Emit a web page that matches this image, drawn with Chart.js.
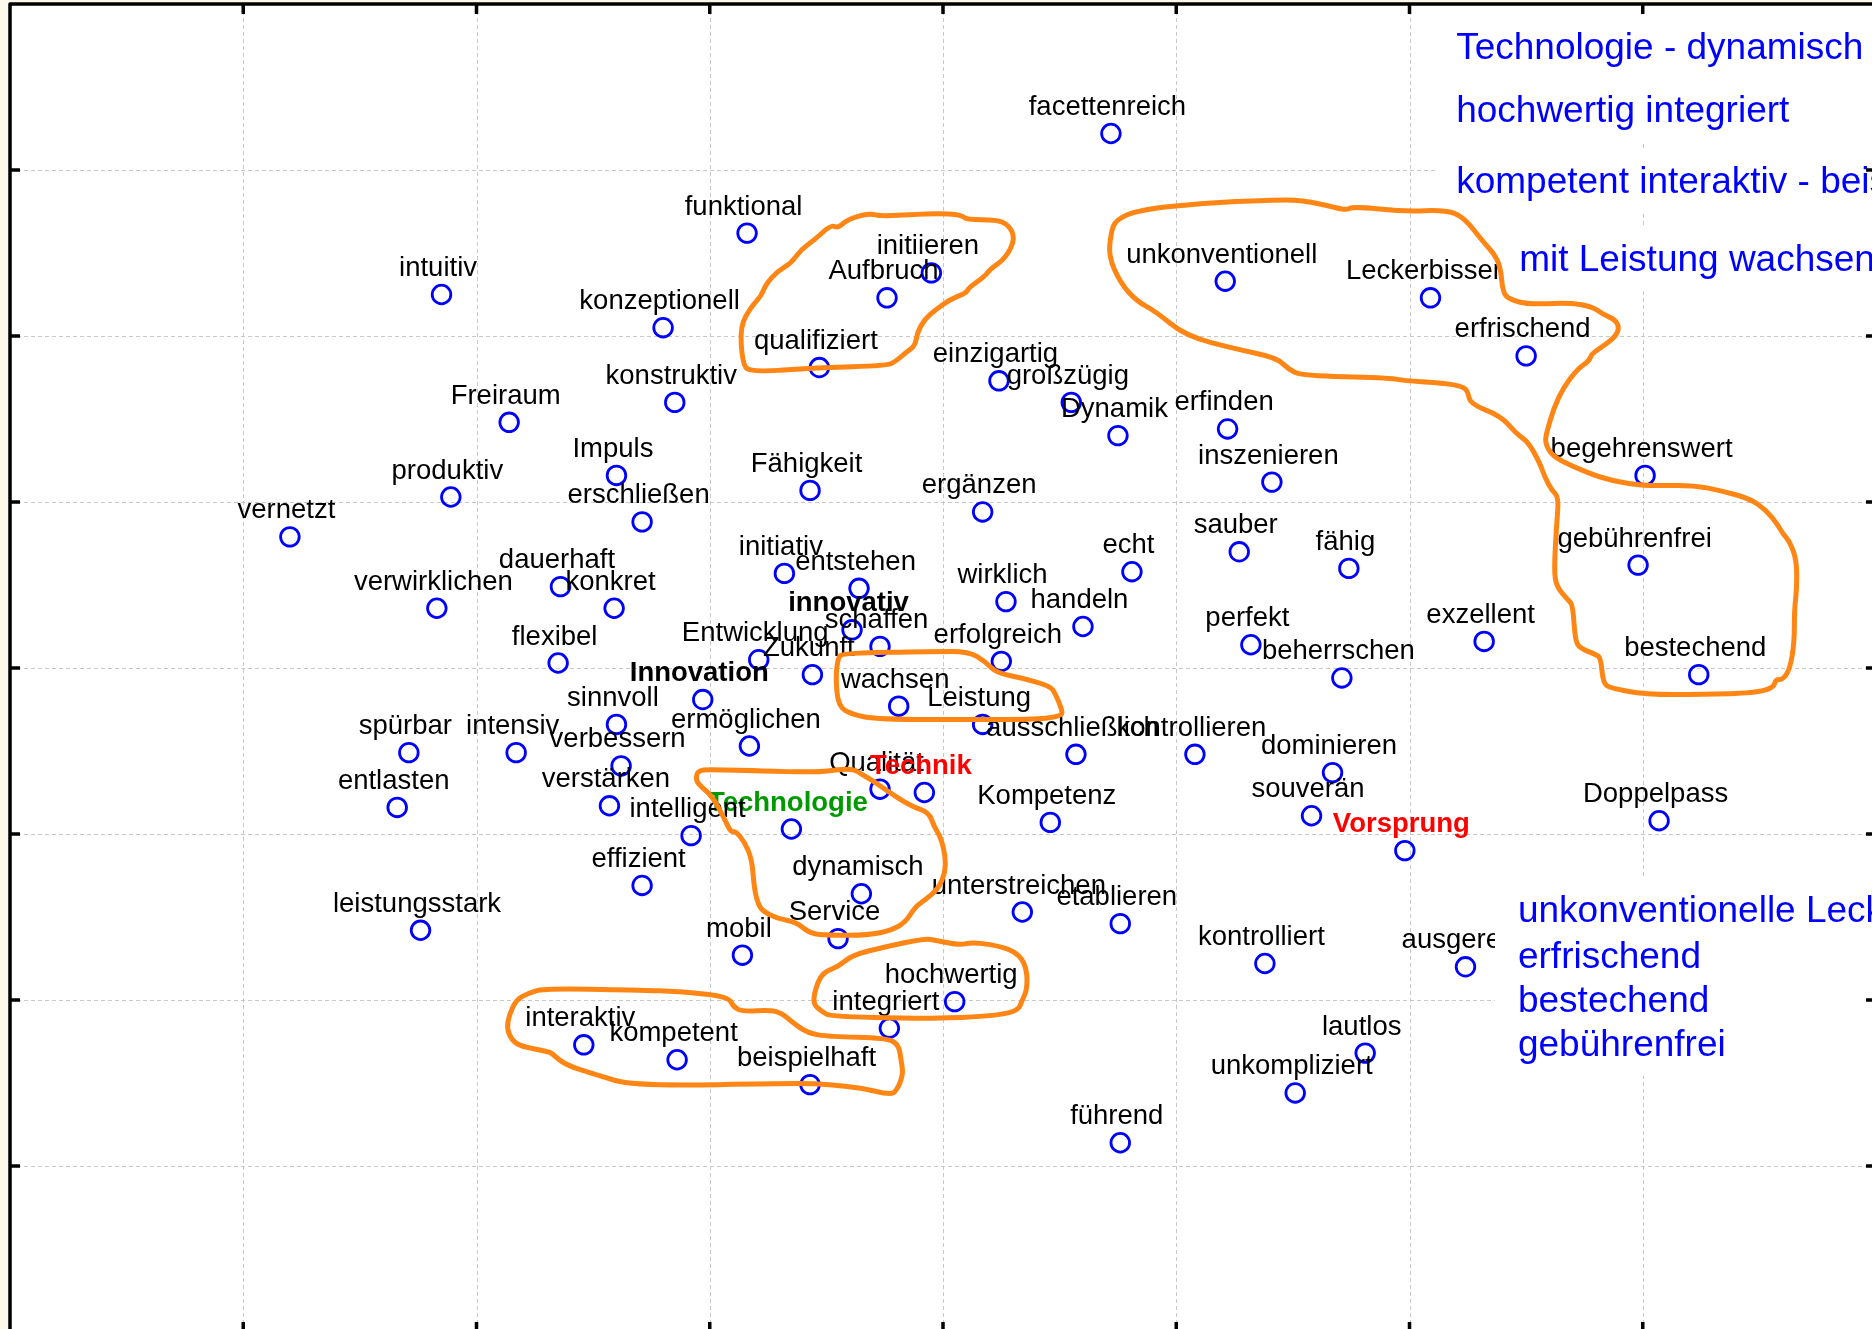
<!DOCTYPE html>
<html>
<head>
<meta charset="utf-8">
<script src="https://cdn.jsdelivr.net/npm/chart.js@4.4.1/dist/chart.umd.min.js"></script>
<style>
  html, body { margin: 0; padding: 0; overflow: hidden; background: #fdf8ec; }
  #wrap { position: absolute; left: 0; top: 0; width: 1890px; height: 1345px; }
</style>
</head>
<body>
<div id="wrap"><canvas id="myChart" width="1890" height="1345"></canvas></div>
<script>
// words and their positions on the map
const words = ['facettenreich', 'funktional', 'initiieren', 'Aufbruch', 'intuitiv', 'konzeptionell', 'qualifiziert',
  'unkonventionell', 'Leckerbissen', 'erfrischend', 'einzigartig', 'großzügig', 'konstruktiv', 'Freiraum', 'Dynamik',
  'erfinden', 'inszenieren', 'begehrenswert', 'Impuls', 'produktiv', 'Fähigkeit', 'ergänzen', 'erschließen', 'vernetzt',
  'sauber', 'fähig', 'echt', 'gebührenfrei', 'initiativ', 'entstehen', 'dauerhaft', 'konkret', 'verwirklichen', 'wirklich',
  'handeln', 'innovativ', 'schaffen', 'perfekt', 'exzellent', 'Entwicklung', 'erfolgreich', 'flexibel', 'Zukunft',
  'bestechend', 'beherrschen', 'Innovation', 'wachsen', 'sinnvoll', 'Leistung', 'ermöglichen', 'spürbar', 'intensiv',
  'ausschließlich', 'kontrollieren', 'verbessern', 'dominieren', 'Qualität', 'Technik', 'verstärken', 'entlasten',
  'souverän', 'Doppelpass', 'Kompetenz', 'Technologie', 'intelligent', 'Vorsprung', 'effizient', 'dynamisch',
  'unterstreichen', 'etablieren', 'leistungsstark', 'Service', 'mobil', 'kontrolliert', 'ausgereift', 'hochwertig',
  'integriert', 'interaktiv', 'lautlos', 'kompetent', 'beispielhaft', 'unkompliziert', 'führend'];

const xValues = [0.72, -0.84, -0.05, -0.24, -2.15, -1.20, -0.53, 1.21, 2.09, 2.50, 0.24, 0.55, -1.15, -1.86, 0.75,
  1.22, 1.41, 3.01, -1.40, -2.11, -0.57, 0.17, -1.29, -2.80, 1.27, 1.74, 0.81, 2.98, -0.68, -0.36, -1.64, -1.41, -2.17,
  0.27, 0.60, -0.39, -0.27, 1.32, 2.32, -0.79, 0.25, -1.65, -0.56, 3.24, 1.71, -1.03, -0.19, -1.40, 0.17, -0.83, -2.29,
  -1.83, 0.57, 1.08, -1.38, 1.67, -0.27, -0.08, -1.43, -2.34, 1.58, 3.07, 0.46, -0.65, -1.08, 1.98, -1.29, -0.35, 0.34,
  0.76, -2.24, -0.45, -0.86, 1.38, 2.24, 0.05, -0.23, -1.54, 1.81, -1.14, -0.57, 1.51, 0.76];

const yValues = [3.22, 2.62, 2.38, 2.23, 2.25, 2.05, 1.81, 2.33, 2.23, 1.88, 1.73, 1.60, 1.60, 1.48, 1.40, 1.44, 1.12,
  1.16, 1.16, 1.03, 1.07, 0.94, 0.88, 0.79, 0.70, 0.60, 0.58, 0.62, 0.57, 0.48, 0.49, 0.36, 0.36, 0.40, 0.25, 0.23, 0.13,
  0.14, 0.16, 0.05, 0.04, 0.03, -0.04, -0.04, -0.06, -0.19, -0.23, -0.34, -0.34, -0.47, -0.51, -0.51, -0.52, -0.52,
  -0.59, -0.63, -0.73, -0.75, -0.83, -0.84, -0.89, -0.92, -0.93, -0.97, -1.01, -1.10, -1.31, -1.36, -1.47, -1.54, -1.58,
  -1.63, -1.73, -1.78, -1.80, -2.01, -2.17, -2.27, -2.32, -2.36, -2.51, -2.56, -2.86];

// highlighted words (bold, own colour)
const highlightWords = ['innovativ', 'Innovation', 'Technik', 'Vorsprung', 'Technologie'];
const highlightColors = ['#000000', '#000000', '#ff0000', '#ff0000', '#009a00'];

const xTicks = [-4, -3, -2, -1, 0, 1, 2, 3, 4];
const yTicks = [-4, -3, -2, -1, 0, 1, 2, 3, 4];

// blue notes top right, one text per line
const noteLines = ['Technologie - dynamisch Service', 'hochwertig integriert', 'kompetent interaktiv - beispielhaft', 'mit Leistung wachsen'];
const noteX = [2.20, 2.20, 2.20, 2.47];
const noteY = [3.67, 3.29, 2.86, 2.39];

// blue note bottom right, one block
const blockLines = ['unkonventionelle Leckerbissen', 'erfrischend', 'bestechend', 'gebührenfrei'];
const blockX = 2.465;
const blockY = [-1.530, -1.805, -2.072, -2.337];

// hand drawn cluster outlines
const outlines = [
  [[-0.83, 1.78], [-0.86, 1.84], [-0.87, 2.06], [-0.82, 2.18], [-0.78, 2.24], [-0.76, 2.31], [-0.71, 2.39], [-0.65, 2.44],
   [-0.61, 2.52], [-0.55, 2.58], [-0.48, 2.67], [-0.45, 2.65], [-0.41, 2.70], [-0.32, 2.74], [-0.26, 2.72], [-0.03, 2.74],
   [0.08, 2.73], [0.10, 2.70], [0.23, 2.70], [0.28, 2.67], [0.31, 2.59], [0.27, 2.47], [0.20, 2.40], [0.18, 2.36],
   [0.11, 2.29], [0.10, 2.26], [0.03, 2.22], [-0.03, 2.16], [-0.08, 2.10], [-0.11, 2.02], [-0.12, 1.94], [-0.16, 1.90],
   [-0.20, 1.85], [-0.24, 1.82], [-0.54, 1.81]],
  [[0.74, 2.70], [0.84, 2.76], [1.11, 2.80], [1.40, 2.82], [1.54, 2.82], [1.69, 2.77], [1.73, 2.76], [1.76, 2.78],
   [1.98, 2.75], [2.15, 2.76], [2.23, 2.72], [2.32, 2.56], [2.36, 2.50], [2.39, 2.42], [2.40, 2.26], [2.43, 2.22],
   [2.51, 2.19], [2.68, 2.20], [2.78, 2.18], [2.83, 2.13], [2.88, 2.10], [2.90, 2.05], [2.88, 1.99], [2.81, 1.92],
   [2.78, 1.89], [2.77, 1.85], [2.72, 1.80], [2.66, 1.69], [2.62, 1.57], [2.59, 1.43], [2.58, 1.36], [2.61, 1.28],
   [2.69, 1.22], [2.83, 1.14], [2.98, 1.10], [3.08, 1.10], [3.22, 1.10], [3.33, 1.07], [3.46, 1.02], [3.53, 0.95],
   [3.58, 0.86], [3.60, 0.81], [3.63, 0.76], [3.66, 0.65], [3.66, 0.47], [3.65, 0.35], [3.65, 0.15], [3.63, -0.01],
   [3.60, -0.07], [3.57, -0.07], [3.56, -0.12], [3.48, -0.15], [3.26, -0.16], [3.01, -0.16], [2.86, -0.12], [2.83, -0.09],
   [2.82, 0.06], [2.80, 0.08], [2.73, 0.12], [2.71, 0.17], [2.70, 0.38], [2.68, 0.41], [2.63, 0.49], [2.62, 0.59],
   [2.63, 0.85], [2.64, 1.03], [2.61, 1.07], [2.58, 1.15], [2.56, 1.23], [2.51, 1.36], [2.46, 1.41], [2.39, 1.52],
   [2.26, 1.59], [2.25, 1.67], [2.22, 1.70], [2.12, 1.72], [1.98, 1.73], [1.90, 1.75], [1.54, 1.76], [1.48, 1.80],
   [1.43, 1.87], [1.26, 1.92], [1.04, 2.00], [0.91, 2.15], [0.83, 2.21], [0.76, 2.32], [0.71, 2.48], [0.72, 2.62]],
  [[-0.43, 0.09], [-0.04, 0.10], [0.11, 0.10], [0.18, 0.04], [0.23, -0.03], [0.34, -0.06], [0.46, -0.11], [0.48, -0.15],
   [0.51, -0.25], [0.51, -0.29], [0.40, -0.31], [0.16, -0.31], [-0.28, -0.31], [-0.39, -0.28], [-0.45, -0.23],
   [-0.46, -0.05], [-0.45, 0.06]],
  [[-1.05, -0.62], [-1.01, -0.61], [-0.54, -0.63], [-0.45, -0.61], [-0.38, -0.61], [-0.35, -0.64], [-0.31, -0.67],
   [-0.24, -0.74], [-0.14, -0.83], [-0.06, -0.87], [-0.04, -0.95], [-0.01, -1.02], [0.01, -1.13], [0.01, -1.23],
   [-0.02, -1.33], [-0.08, -1.40], [-0.12, -1.44], [-0.16, -1.53], [-0.22, -1.58], [-0.32, -1.61], [-0.49, -1.61],
   [-0.57, -1.60], [-0.63, -1.53], [-0.71, -1.51], [-0.78, -1.46], [-0.80, -1.39], [-0.81, -1.31], [-0.82, -1.15],
   [-0.85, -1.05], [-0.89, -0.98], [-0.91, -0.99], [-0.94, -0.90], [-0.99, -0.77], [-1.05, -0.70], [-1.06, -0.66]],
  [[-0.56, -2.02], [-0.54, -1.90], [-0.51, -1.83], [-0.45, -1.80], [-0.39, -1.73], [-0.25, -1.68], [-0.08, -1.63],
   [-0.03, -1.64], [0.07, -1.67], [0.13, -1.65], [0.26, -1.68], [0.33, -1.73], [0.36, -1.82], [0.36, -1.94],
   [0.34, -2.00], [0.32, -2.07], [0.18, -2.10], [-0.03, -2.11], [-0.11, -2.11], [-0.48, -2.10], [-0.52, -2.07]],
  [[-1.71, -1.93], [-1.32, -1.94], [-1.11, -1.95], [-0.92, -1.98], [-0.90, -2.04], [-0.86, -2.07], [-0.74, -2.06],
   [-0.69, -2.08], [-0.65, -2.13], [-0.58, -2.20], [-0.49, -2.22], [-0.24, -2.23], [-0.19, -2.27], [-0.18, -2.36],
   [-0.17, -2.45], [-0.20, -2.55], [-0.23, -2.57], [-0.35, -2.53], [-0.49, -2.51], [-0.61, -2.50], [-1.32, -2.52],
   [-1.49, -2.45], [-1.62, -2.39], [-1.67, -2.33], [-1.69, -2.31], [-1.81, -2.28], [-1.85, -2.24], [-1.87, -2.17],
   [-1.86, -2.09], [-1.83, -2.00], [-1.78, -1.96]]
];

const labelFont = '27.5px "Liberation Sans", Arial, sans-serif';
const boldFont = 'bold 27.5px "Liberation Sans", Arial, sans-serif';
const noteFont = '37px "Liberation Sans", Arial, sans-serif';

function smoothClosed(c, pts) {
  const n = pts.length;
  const mid = (a, b) => [(a[0] + b[0]) / 2, (a[1] + b[1]) / 2];
  let m = mid(pts[n - 1], pts[0]);
  c.beginPath();
  c.moveTo(m[0], m[1]);
  for (let i = 0; i < n; i++) {
    const p = pts[i];
    const q = mid(p, pts[(i + 1) % n]);
    c.quadraticCurveTo(p[0], p[1], q[0], q[1]);
  }
  c.closePath();
  c.stroke();
}

const backgroundAndGrid = {
  id: 'backgroundAndGrid',
  beforeDatasetsDraw(chart) {
    const c = chart.ctx;
    const a = chart.chartArea;
    const xs = chart.scales.x, ys = chart.scales.y;
    c.save();
    c.fillStyle = '#ffffff';
    c.fillRect(a.left, a.top, a.right - a.left, a.bottom - a.top);
    c.strokeStyle = '#c8c8c8';
    c.lineWidth = 1;
    c.setLineDash([4, 3]);
    xTicks.forEach(v => {
      const px = Math.round(xs.getPixelForValue(v)) + 0.5;
      c.beginPath(); c.moveTo(px, a.top); c.lineTo(px, a.bottom); c.stroke();
    });
    yTicks.forEach(v => {
      const py = Math.round(ys.getPixelForValue(v)) + 0.5;
      c.beginPath(); c.moveTo(a.left, py); c.lineTo(a.right, py); c.stroke();
    });
    c.restore();
  }
};

const overlays = {
  id: 'overlays',
  afterDatasetsDraw(chart) {
    const c = chart.ctx;
    const a = chart.chartArea;
    const xs = chart.scales.x, ys = chart.scales.y;
    c.save();

    // word labels above the points
    c.textAlign = 'center';
    c.textBaseline = 'alphabetic';
    words.forEach((w, i) => {
      const px = xs.getPixelForValue(xValues[i]);
      const py = ys.getPixelForValue(yValues[i]);
      const h = highlightWords.indexOf(w);
      c.font = h >= 0 ? boldFont : labelFont;
      c.fillStyle = h >= 0 ? highlightColors[h] : '#000000';
      c.fillText(w, px - 3.5, py - 18.5);
    });

    // blue notes on white boxes
    c.textAlign = 'left';
    c.font = noteFont;
    noteLines.forEach((t, i) => {
      const px = xs.getPixelForValue(noteX[i]);
      const py = ys.getPixelForValue(noteY[i]);
      const w = c.measureText(t).width;
      c.fillStyle = '#ffffff';
      c.fillRect(px - 20, py - 45, w + 40, 65);
      c.fillStyle = '#0000ff';
      c.fillText(t, px, py);
    });
    const bx = xs.getPixelForValue(blockX);
    const bTop = ys.getPixelForValue(blockY[0]) - 46;
    const bBottom = ys.getPixelForValue(blockY[blockY.length - 1]) + 20;
    const bw = Math.max(...blockLines.map(t => c.measureText(t).width));
    c.fillStyle = '#ffffff';
    c.fillRect(bx - 23, bTop, bw + 46, bBottom - bTop);
    c.fillStyle = '#0000ff';
    blockLines.forEach((t, i) => c.fillText(t, bx, ys.getPixelForValue(blockY[i])));

    // orange cluster outlines
    c.strokeStyle = '#ff8614';
    c.lineWidth = 5;
    c.lineJoin = 'round';
    c.lineCap = 'round';
    outlines.forEach(o => {
      smoothClosed(c, o.map(p => [xs.getPixelForValue(p[0]), ys.getPixelForValue(p[1])]));
    });

    // frame with inner ticks
    c.strokeStyle = '#000000';
    c.lineWidth = 3.5;
    c.lineCap = 'butt';
    c.strokeRect(a.left, a.top, a.right - a.left, a.bottom - a.top);
    c.beginPath();
    xTicks.slice(1, -1).forEach(v => {
      const px = xs.getPixelForValue(v);
      c.moveTo(px, a.top); c.lineTo(px, a.top + 10);
      c.moveTo(px, a.bottom); c.lineTo(px, a.bottom - 10);
    });
    yTicks.slice(1, -1).forEach(v => {
      const py = ys.getPixelForValue(v);
      c.moveTo(a.left, py); c.lineTo(a.left + 10, py);
      c.moveTo(a.right, py); c.lineTo(a.right - 10, py);
    });
    c.stroke();
    c.restore();
  }
};

const ctx = document.getElementById('myChart');

function createWordMap() {
  new Chart(ctx, {
    type: 'scatter',
    data: {
      datasets: [{
        data: words.map((w, i) => ({ x: xValues[i], y: yValues[i] })),
        pointRadius: 9.3,
        pointHoverRadius: 9.3,
        pointBorderWidth: 2.8,
        borderColor: '#0000ff',
        backgroundColor: 'rgba(0,0,0,0)'
      }]
    },
    options: {
      responsive: false,
      animation: false,
      events: [],
      layout: { autoPadding: false, padding: { left: 10, top: 4, right: 14, bottom: 13 } },
      plugins: { legend: { display: false }, tooltip: { enabled: false } },
      scales: {
        x: {
          type: 'linear', min: -4, max: 4,
          ticks: { display: false, stepSize: 1 },
          grid: { display: false, drawTicks: false },
          border: { display: false }
        },
        y: {
          type: 'linear', min: -4, max: 4,
          ticks: { display: false, stepSize: 1 },
          grid: { display: false, drawTicks: false },
          border: { display: false }
        }
      }
    },
    plugins: [backgroundAndGrid, overlays]
  });
}

createWordMap();
</script>
</body>
</html>
